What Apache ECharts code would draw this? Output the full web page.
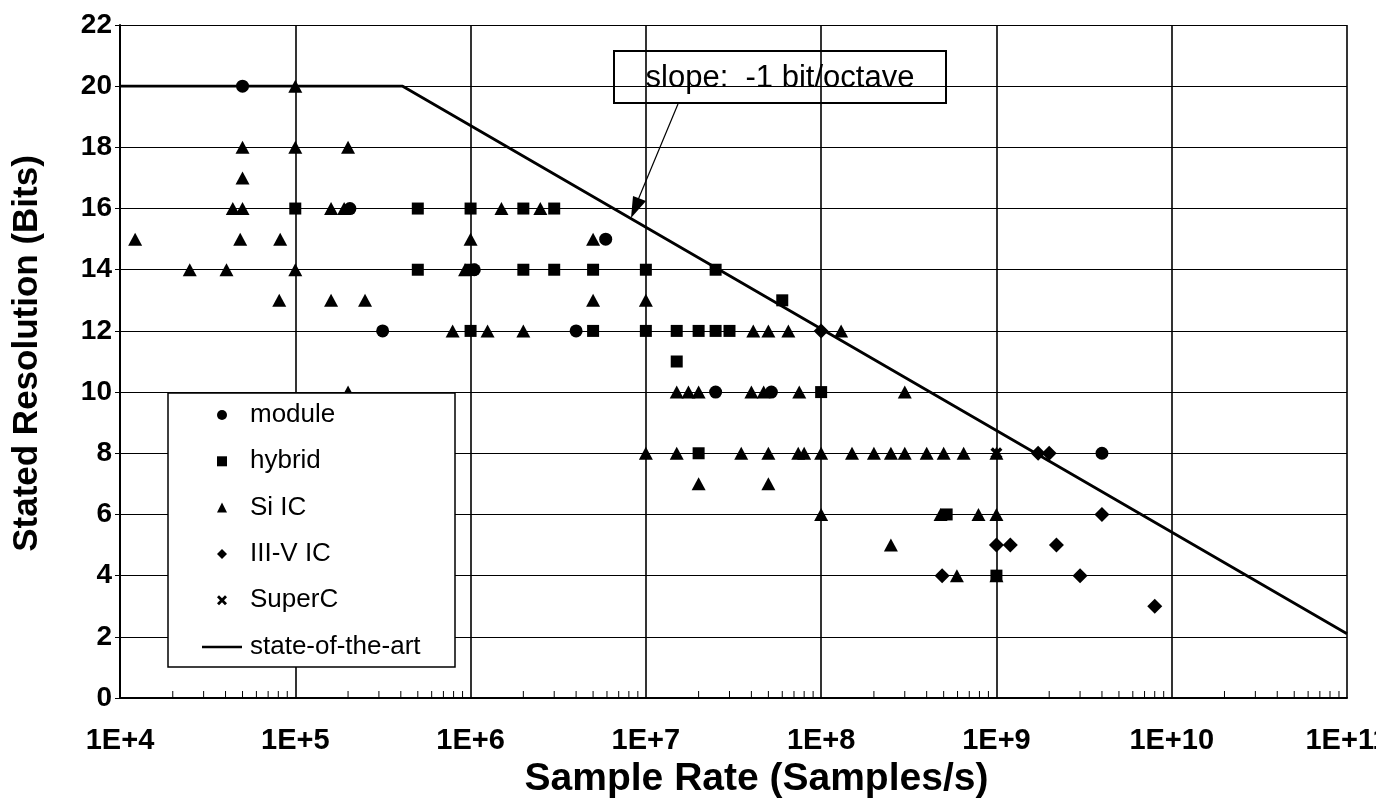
<!DOCTYPE html>
<html>
<head>
<meta charset="utf-8">
<script src="https://cdn.jsdelivr.net/npm/echarts@6/dist/echarts.min.js"></script>
<style>
  html, body { margin: 0; padding: 0; background: #fff; }
  #main { width: 1376px; height: 800px; }
</style>
</head>
<body>
<div id="main"></div>
<script>
var myChart = echarts.init(document.getElementById('main'));

// data: [sample rate, bits]
var moduleData = [
  [5e4, 20], [2.05e5, 16], [1.05e6, 14], [5.9e6, 15], [3.15e5, 12], [4e6, 12],
  [2.5e7, 10], [5.2e7, 10], [4e9, 8]
];
var hybridData = [
  [1e5, 16], [5e5, 16], [1e6, 16], [2e6, 16], [3e6, 16],
  [5e5, 14], [1e6, 14], [2e6, 14], [3e6, 14], [5e6, 14], [1e7, 14], [2.5e7, 14],
  [6e7, 13],
  [1e6, 12], [5e6, 12], [1e7, 12], [1.5e7, 12], [2e7, 12], [2.5e7, 12], [3e7, 12],
  [1.5e7, 11],
  [1e8, 10],
  [2e7, 8],
  [5.2e8, 6],
  [1e9, 4]
];
var siData = [
  [1e5, 20],
  [5e4, 18], [1e5, 18], [2e5, 18],
  [5e4, 17],
  [4.4e4, 16], [5e4, 16], [1.6e5, 16], [1.9e5, 16], [1.5e6, 16], [2.5e6, 16],
  [1.22e4, 15], [4.85e4, 15], [8.2e4, 15], [1e6, 15], [5e6, 15],
  [2.5e4, 14], [4.05e4, 14], [1e5, 14], [9.3e5, 14],
  [8.1e4, 13], [1.6e5, 13], [2.5e5, 13], [5e6, 13], [1e7, 13],
  [7.9e5, 12], [1.25e6, 12], [2e6, 12], [4.1e7, 12], [5e7, 12], [6.5e7, 12], [1.3e8, 12],
  [2e5, 10], [1.5e7, 10], [1.75e7, 10], [2e7, 10], [4e7, 10], [4.7e7, 10], [7.5e7, 10], [3e8, 10],
  [1e7, 8], [1.5e7, 8], [3.5e7, 8], [5e7, 8], [7.4e7, 8], [8e7, 8], [1e8, 8], [1.5e8, 8],
  [2e8, 8], [2.5e8, 8], [3e8, 8], [4e8, 8], [5e8, 8], [6.5e8, 8], [1e9, 8],
  [2e7, 7], [5e7, 7],
  [1e8, 6], [4.8e8, 6], [7.9e8, 6], [1e9, 6],
  [2.5e8, 5],
  [5.95e8, 4], [1e9, 4]
];
var iiivData = [
  [1e8, 12], [1.73e9, 8], [2e9, 8], [4e9, 6], [1e9, 5], [1.2e9, 5], [2.2e9, 5],
  [4.9e8, 4], [3e9, 4], [8e9, 3]
];
var superData = [[1e9, 8]];
var sotaData = [[1e4, 20], [4.1e5, 20], [1e11, 2.1]];

var markerNames = ['module', 'hybrid', 'Si IC', 'III-V IC', 'SuperC'];
var lineName = 'state-of-the-art';
var xDecades = ['1E+4', '1E+5', '1E+6', '1E+7', '1E+8', '1E+9', '1E+10', '1E+11'];

// minor tick positions of the log axis (2..9 of every decade)
var minorTicks = [];
for (var d = 4; d < 11; d++) {
  for (var k = 2; k <= 9; k++) {
    minorTicks.push([k * Math.pow(10, d), 0]);
  }
}

var xMark = 'path://M0,2L2,0L5,3L8,0L10,2L7,5L10,8L8,10L5,7L2,10L0,8L3,5Z';
var font = 'Liberation Sans, Arial, sans-serif';

function legendText(name) {
  return '{g|}{t|' + name + '}';
}
var legendTextStyle = {
  fontFamily: font, fontSize: 26, color: '#000', lineHeight: 26,
  rich: {
    g: { width: 18, height: 26 },
    t: { fontFamily: font, fontSize: 26, color: '#000', lineHeight: 26 }
  }
};

var option = {
  backgroundColor: '#fff',
  animation: false,
  grid: { left: 120, right: 29, top: 25, bottom: 102, outerBoundsMode: 'none', containLabel: false },
  legend: [
    {
      orient: 'vertical',
      left: 217,
      top: 402,
      z: 10,
      padding: 0,
      data: markerNames,
      itemWidth: 10,
      itemHeight: 10,
      itemGap: 20.3,
      formatter: legendText,
      textStyle: legendTextStyle
    },
    {
      orient: 'vertical',
      left: 202,
      top: 634,
      z: 10,
      padding: 0,
      data: [{ name: lineName, icon: 'rect' }],
      itemWidth: 40,
      itemHeight: 2.5,
      formatter: function (n) { return '{g2|}{t|' + n + '}'; },
      textStyle: {
        fontFamily: font, fontSize: 26, color: '#000', lineHeight: 26,
        rich: {
          g2: { width: 3, height: 26 },
          t: { fontFamily: font, fontSize: 26, color: '#000', lineHeight: 26 }
        }
      }
    }
  ],
  xAxis: {
    type: 'log',
    logBase: 10,
    min: 1e4,
    max: 1e11,
    name: 'Sample Rate (Samples/s)',
    nameLocation: 'middle',
    nameGap: 57,
    nameTextStyle: {
      fontFamily: font, fontSize: 39, fontWeight: 'bold', color: '#000',
      padding: [0, 0, 0, 46]
    },
    axisLine: { lineStyle: { color: '#000', width: 2 } },
    axisTick: { show: false },
    axisLabel: {
      margin: 28,
      fontFamily: font,
      fontSize: 29,
      fontWeight: 'bold',
      color: '#000',
      hideOverlap: false,
      formatter: function (v) {
        return xDecades[Math.round(Math.log10(v)) - 4];
      }
    },
    splitLine: { show: true, lineStyle: { color: '#000', width: 1.6 } }
  },
  yAxis: {
    type: 'value',
    min: 0,
    max: 22,
    interval: 2,
    name: 'Stated Resolution (Bits)',
    nameLocation: 'middle',
    nameGap: 75,
    nameTextStyle: {
      fontFamily: font, fontSize: 35, fontWeight: 'bold', color: '#000',
      padding: [0, 0, 0, 16]
    },
    axisLine: { show: true, lineStyle: { color: '#000', width: 2 } },
    axisTick: { show: true, length: 5, lineStyle: { color: '#000' } },
    axisLabel: {
      margin: 8,
      fontFamily: font,
      fontSize: 28,
      fontWeight: 'bold',
      color: '#000'
    },
    splitLine: { show: true, lineStyle: { color: '#000', width: 1.2 } }
  },
  series: [
    {
      name: 'minor',
      type: 'custom',
      silent: true,
      z: 1,
      data: minorTicks,
      renderItem: function (params, api) {
        var p = api.coord([api.value(0), 0]);
        return {
          type: 'line',
          shape: { x1: p[0], y1: p[1], x2: p[0], y2: p[1] - 7 },
          style: { stroke: '#000', lineWidth: 1 }
        };
      }
    },
    {
      name: lineName,
      type: 'line',
      data: sotaData,
      symbol: 'none',
      z: 2,
      lineStyle: { color: '#000', width: 2.8 },
      itemStyle: { color: '#000' }
    },
    {
      name: 'module', type: 'scatter', data: moduleData, z: 3,
      symbol: 'circle', symbolSize: 13, itemStyle: { color: '#000', opacity: 1 }
    },
    {
      name: 'hybrid', type: 'scatter', data: hybridData, z: 3,
      symbol: 'rect', symbolSize: 12, itemStyle: { color: '#000', opacity: 1 }
    },
    {
      name: 'Si IC', type: 'scatter', data: siData, z: 3,
      symbol: 'triangle', symbolSize: [14, 13], itemStyle: { color: '#000', opacity: 1 }
    },
    {
      name: 'III-V IC', type: 'scatter', data: iiivData, z: 3,
      symbol: 'diamond', symbolSize: 15, itemStyle: { color: '#000', opacity: 1 }
    },
    {
      name: 'SuperC', type: 'scatter', data: superData, z: 3,
      symbol: xMark, symbolSize: 12, itemStyle: { color: '#000', opacity: 1 }
    }
  ],
  graphic: [
    {
      // legend frame
      type: 'rect',
      z: 5,
      shape: { x: 168, y: 393, width: 287, height: 274 },
      style: { fill: '#fff', stroke: '#000', lineWidth: 1.5 }
    },
    {
      type: 'group',
      z: 100,
      children: [
        {
          type: 'rect',
          shape: { x: 614, y: 51, width: 332, height: 52 },
          style: { fill: '#fff', stroke: '#000', lineWidth: 2 }
        },
        {
          type: 'text',
          x: 780, y: 78,
          style: {
            text: 'slope:  -1 bit/octave',
            font: '31px ' + font,
            fill: '#000',
            align: 'center',
            verticalAlign: 'middle'
          }
        },
        {
          type: 'line',
          shape: { x1: 678, y1: 104, x2: 638, y2: 200 },
          style: { stroke: '#000', lineWidth: 1.2 }
        },
        {
          type: 'polygon',
          shape: { points: [[631, 218], [633, 196], [646, 201]] },
          style: { fill: '#000' }
        }
      ]
    }
  ]
};
myChart.setOption(option);
</script>
</body>
</html>
